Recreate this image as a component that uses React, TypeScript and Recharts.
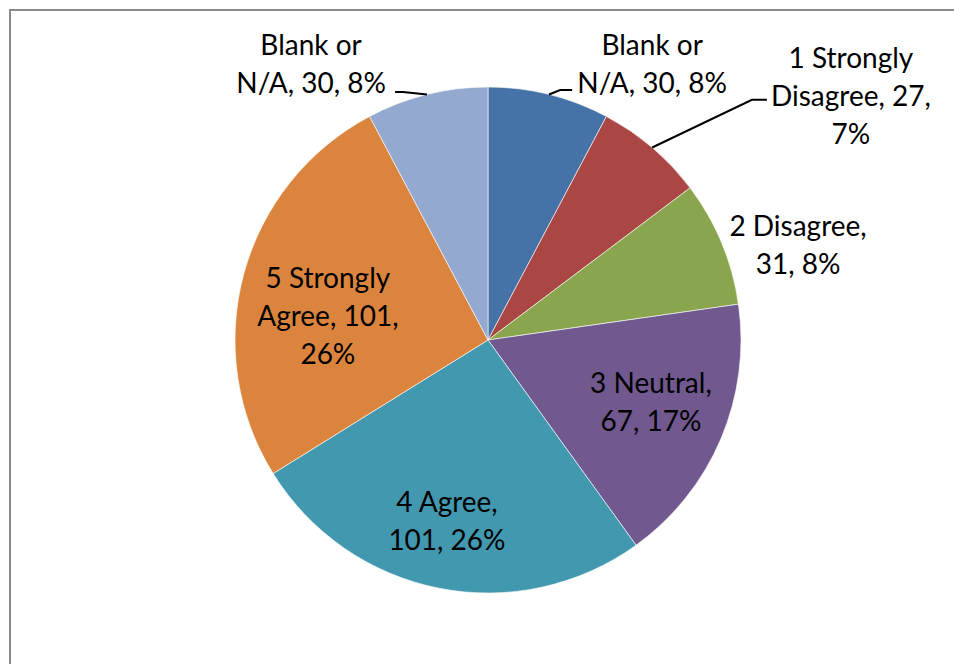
import React from "react";
import { PieChart, Pie, Cell } from "recharts";

const categories = [
  "Blank or N/A",
  "1 Strongly Disagree",
  "2 Disagree",
  "3 Neutral",
  "4 Agree",
  "5 Strongly Agree",
  "Blank or N/A",
];
const counts = [30, 27, 31, 67, 101, 101, 30];
const colors = ["#4572A7", "#AA4643", "#89A54E", "#71588F", "#4198AF", "#DB843D", "#93A9CF"];

// label layout (styling only)
const lineWords = [[2, 3], [2, 2, 1], [2, 2], [2, 2], [2, 2], [2, 2, 1], [2, 3]];
const labelRadius = [1.269, 1.729, 1.282, 0.689, 0.734, 0.64, 1.296];
const labelAngleShift = [16.8, 15.6, 5.5, -2.2, 1.6, -6.6, -18.7];
// leader end relative to label centre: [dx, dy, stub]
const leaders: (number[] | null)[] = [[-80, 26, 12], [-84, 4, 15], null, null, null, null, [84, 28, -8]];

const data = categories.map((name, i) => ({ name, value: counts[i] }));

const RAD = Math.PI / 180;
const LINE_H = 38;
const FONT = "Lato, 'Noto Sans', sans-serif";

const renderLabel = (props: any) => {
  const { cx, cy, midAngle, outerRadius, percent, index, name, value } = props;
  const ang = midAngle - labelAngleShift[index];
  const r = outerRadius * labelRadius[index];
  const lx = cx + r * Math.cos(-ang * RAD);
  const ly = cy + r * Math.sin(-ang * RAD);
  const words = `${name}, ${value}, ${Math.round(percent * 100)}%`.split(" ");
  const lines: string[] = [];
  let k = 0;
  for (const n of lineWords[index]) {
    lines.push(words.slice(k, k + n).join(" "));
    k += n;
  }
  const nL = lines.length;
  const ld = leaders[index];
  let leader = null;
  if (ld) {
    const sx = cx + outerRadius * Math.cos(-midAngle * RAD);
    const sy = cy + outerRadius * Math.sin(-midAngle * RAD);
    const ex = lx + ld[0];
    const ey = ly + ld[1];
    const bx = ex - ld[2];
    leader = (
      <polyline
        points={`${sx},${sy} ${bx},${ey} ${ex},${ey}`}
        fill="none"
        stroke="#000"
        strokeWidth={2}
      />
    );
  }
  return (
    <g key={`lbl-${index}`}>
      {leader}
      <text x={lx} textAnchor="middle" fill="#000" fontFamily={FONT} fontSize={28}>
        {lines.map((t, i) => (
          <tspan key={i} x={lx} y={ly + (i - (nL - 1) / 2) * LINE_H + 10}>
            {t}
          </tspan>
        ))}
      </text>
    </g>
  );
};

export default function App() {
  return (
    <div style={{ position: "absolute", left: 0, top: 0, width: 954, height: 664, background: "#fff", overflow: "hidden" }}>
      <div
        style={{
          position: "absolute",
          left: 9,
          top: 9,
          width: 1000,
          height: 700,
          borderLeft: "2px solid #8a8a8a",
          borderTop: "2px solid #8a8a8a",
        }}
      />
      <div style={{ position: "absolute", left: 0, top: 0 }}>
        <PieChart width={954} height={664} margin={{ top: 0, right: 0, bottom: 0, left: 0 }}>
          <Pie
            data={data}
            dataKey="value"
            nameKey="name"
            cx={488}
            cy={340}
            outerRadius={253}
            startAngle={90}
            endAngle={-270}
            stroke="#ffffff"
            strokeWidth={0.6}
            isAnimationActive={false}
            labelLine={false}
            label={renderLabel}
          >
            {data.map((d, i) => (
              <Cell key={`c-${i}`} fill={colors[i]} />
            ))}
          </Pie>
        </PieChart>
      </div>
    </div>
  );
}
